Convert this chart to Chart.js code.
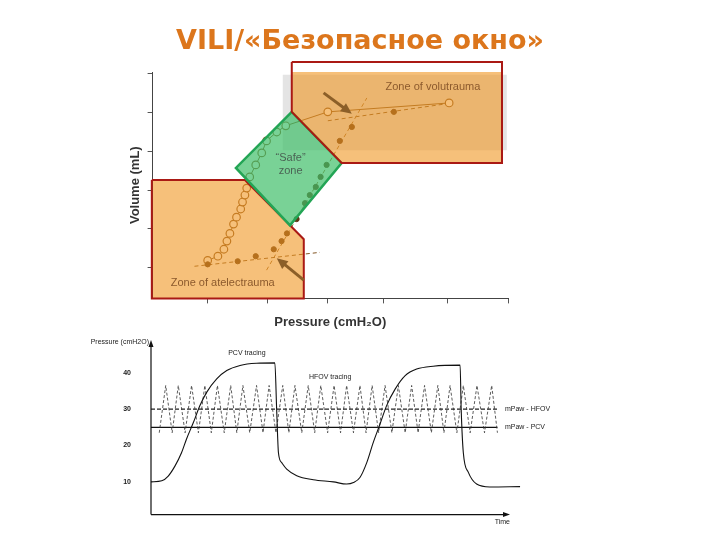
<!DOCTYPE html>
<html>
<head>
<meta charset="utf-8">
<title>VILI</title>
<script src="https://cdn.jsdelivr.net/npm/chart.js@4.4.0/dist/chart.umd.min.js"></script>
<style>
  body { margin: 0; background: #fff; width: 720px; height: 540px; position: relative; overflow: hidden; font-family: "Liberation Sans", Arial, sans-serif; }
  h1 { position: absolute; left: 0; top: 26px; width: 720px; margin: 0; text-align: center; font-family: "DejaVu Sans", sans-serif; font-size: 27px; line-height: 28px; color: #dc761c; font-weight: bold; z-index: 2; }
  #topBox { position: absolute; left: 0; top: 0; width: 720px; height: 340px; }
  #bottomBox { position: absolute; left: 0; top: 330px; width: 720px; height: 210px; }
</style>
</head>
<body>
<div id="topBox"><canvas id="pvChart"></canvas></div>
<div id="bottomBox"><canvas id="pressureChart"></canvas></div>
<h1>VILI/«Безопасное окно»</h1>
<script>
// ---- upper chart: pressure / volume curve ----
const pressTicks = [1, 2, 3, 3.92, 5, 6];
const volTicks = [0.8, 1.8, 2.8, 3.8, 4.8, 5.8];

// inflation limb (open circles)
const inflP = [1.0, 1.17, 1.27, 1.32, 1.37, 1.43, 1.48, 1.55, 1.58, 1.62, 1.65, 1.7, 1.8, 1.9, 1.98, 2.15, 2.3, 3.0, 5.02];
const inflV = [0.98, 1.09, 1.27, 1.48, 1.68, 1.92, 2.1, 2.31, 2.49, 2.67, 2.85, 3.14, 3.45, 3.76, 4.07, 4.3, 4.46, 4.82, 5.05];
// deflation limb (filled dots)
const deflP = [1.0, 1.5, 1.8, 2.1, 2.23, 2.32, 2.48, 2.62, 2.7, 2.8, 2.88, 2.98, 3.2, 3.4, 4.1];
const deflV = [0.88, 0.96, 1.09, 1.27, 1.48, 1.68, 2.05, 2.46, 2.67, 2.88, 3.14, 3.45, 4.07, 4.43, 4.82];

// tangent lines
const lowTanP = [0.78, 2.87];
const lowTanV = [0.83, 1.19];
const steepTanP = [1.98, 3.65];
const steepTanV = [0.73, 5.18];
const upTanP = [3.0, 4.98];
const upTanV = [4.59, 5.03];

// zones
const voluZoneP = [2.4, 5.9, 5.9, 3.23, 2.4, 2.4];
const voluZoneV = [6.11, 6.11, 3.5, 3.5, 4.82, 6.11];
const safeZoneP = [2.4, 3.23, 2.37, 1.47, 2.4];
const safeZoneV = [4.82, 3.5, 1.89, 3.37, 4.82];
const atelZoneP = [0.07, 1.62, 2.37, 2.6, 2.6, 0.07, 0.07];
const atelZoneV = [3.06, 3.06, 1.89, 1.53, 0, 0, 3.06];
const bandP = [2.25, 5.98, 5.98, 2.25, 2.25];
const bandV = [5.78, 5.78, 3.83, 3.83, 5.78];

// arrows
const arrowFromP = [2.93, 2.6];
const arrowFromV = [5.31, 0.47];
const arrowToP = [3.4, 2.15];
const arrowToV = [4.77, 1.04];

// ---- lower chart: PCV vs HFOV pressure tracing ----
const pressureTicks = [10, 20, 30, 40];
const pcvT = [0, 3.0, 4.8, 6.7, 8.5, 9.9, 11.8, 13.6, 15.5, 18.3, 21.1, 24.8, 29.4, 34.5, 35.0, 35.5, 36.4, 37.8, 40.6, 45.2, 50.8, 54.5, 56.4, 58.2, 60.1, 61.9, 63.8, 65.6, 68.0, 70.8, 74.0, 78.6, 86.1, 86.4, 87.0, 88.4, 90.7, 94.4, 102.8];
const pcvP = [10, 10.3, 11.6, 14.4, 18, 21.8, 26.3, 30.9, 34.6, 38.3, 40.6, 42, 42.6, 42.7, 30, 18, 15.3, 13.5, 11.7, 10.6, 10, 9.4, 9.8, 11.2, 15.3, 20.8, 25.9, 30.9, 35.5, 39.2, 41, 41.8, 42.1, 30, 18, 12.6, 9.4, 8.6, 8.7];
const hfovT = [2.3, 4.1, 5.9, 7.6, 9.5, 11.3, 13.2, 15.0, 16.8, 18.5, 20.4, 22.2, 23.9, 25.6, 27.5, 29.4, 31.2, 32.9, 34.8, 36.7, 38.4, 40.1, 42.0, 43.8, 45.6, 47.3, 49.2, 51.0, 52.8, 54.5, 56.4, 58.2, 59.9, 61.6, 63.4, 65.2, 67.1, 68.9, 70.8, 72.6, 74.4, 76.2, 78.1, 79.9, 81.6, 83.3, 85.2, 87.0, 88.9, 90.8, 92.9, 94.9, 96.5];
const hfovP = [23.5, 36.5, 23.5, 36.5, 23.5, 36.5, 23.5, 36.5, 23.5, 36.5, 23.5, 36.5, 23.5, 36.5, 23.5, 36.5, 23.5, 36.5, 23.5, 36.5, 23.5, 36.5, 23.5, 36.5, 23.5, 36.5, 23.5, 36.5, 23.5, 36.5, 23.5, 36.5, 23.5, 36.5, 23.5, 36.5, 23.5, 36.5, 23.5, 36.5, 23.5, 36.5, 23.5, 36.5, 23.5, 36.5, 23.5, 36.5, 23.5, 36.5, 23.5, 36.5, 23.5];
const mpawT = [0, 96.5];
const mpawHfov = [30, 30];
const mpawPcv = [25, 25];

const pts = (xs, ys) => xs.map((x, i) => ({ x: x, y: ys[i] }));

// zones are translucent and sit on top of the curves, like the original slide
const zone = (xs, ys, fill, border, width, order) => ({
  data: pts(xs, ys),
  backgroundColor: fill,
  borderColor: border,
  borderWidth: width,
  fill: "shape",
  pointRadius: 0,
  tension: 0,
  clip: false,
  order: order,
});

const pvNotes = {
  id: "pvNotes",
  afterDatasetsDraw(chart) {
    const { ctx, scales: { x, y } } = chart;
    ctx.save();
    ctx.strokeStyle = "rgb(140,95,40)";
    ctx.fillStyle = "rgb(140,95,40)";
    arrowFromP.forEach((p, i) => {
      const x0 = x.getPixelForValue(p), y0 = y.getPixelForValue(arrowFromV[i]);
      const x1 = x.getPixelForValue(arrowToP[i]), y1 = y.getPixelForValue(arrowToV[i]);
      const a = Math.atan2(y1 - y0, x1 - x0);
      const c = Math.cos(a), s = Math.sin(a);
      ctx.lineWidth = 3;
      ctx.beginPath();
      ctx.moveTo(x0, y0);
      ctx.lineTo(x1 - 8 * c, y1 - 8 * s);
      ctx.stroke();
      ctx.beginPath();
      ctx.moveTo(x1, y1);
      ctx.lineTo(x1 - 11 * c + 5 * s, y1 - 11 * s - 5 * c);
      ctx.lineTo(x1 - 11 * c - 5 * s, y1 - 11 * s + 5 * c);
      ctx.closePath();
      ctx.fill();
    });
    ctx.fillStyle = "rgb(140,90,45)";
    ctx.font = "11px 'Liberation Sans', Arial, sans-serif";
    ctx.textAlign = "center";
    ctx.textBaseline = "middle";
    ctx.fillText("Zone of volutrauma", x.getPixelForValue(4.75), y.getPixelForValue(5.47));
    ctx.fillText("Zone of atelectrauma", x.getPixelForValue(1.25), y.getPixelForValue(0.39));
    ctx.fillStyle = "rgb(75,100,85)";
    ctx.fillText("\u201cSafe\u201d", x.getPixelForValue(2.38), y.getPixelForValue(3.63));
    ctx.fillText("zone", x.getPixelForValue(2.38), y.getPixelForValue(3.29));
    ctx.restore();
  },
};

new Chart(document.getElementById("pvChart"), {
  type: "line",
  data: {
    datasets: [
      zone(bandP, bandV, "rgb(228,228,228)", "rgba(0,0,0,0)", 0, 20),
      zone(atelZoneP, atelZoneV, "rgba(240,150,34,0.6)", "rgb(170,25,20)", 2, 3),
      zone(safeZoneP, safeZoneV, "rgba(64,191,105,0.7)", "rgb(35,165,85)", 2.5, 2),
      zone(voluZoneP, voluZoneV, "rgba(240,150,34,0.6)", "rgb(170,25,20)", 2, 1),
      {
        data: pts(lowTanP, lowTanV),
        borderColor: "rgb(130,85,35)",
        borderWidth: 1,
        borderDash: [4, 3],
        pointRadius: 0,
        order: 10,
      },
      {
        data: pts(steepTanP, steepTanV),
        borderColor: "rgb(160,110,50)",
        borderWidth: 1,
        borderDash: [4, 3],
        pointRadius: 0,
        clip: false,
        order: 10,
      },
      {
        data: pts(upTanP, upTanV),
        borderColor: "rgb(130,85,35)",
        borderWidth: 1,
        borderDash: [4, 3],
        pointRadius: 0,
        order: 10,
      },
      {
        data: pts(inflP, inflV),
        borderColor: "rgb(130,85,35)",
        borderWidth: 1,
        pointRadius: 3.8,
        pointBackgroundColor: "#fff",
        pointBorderColor: "rgb(135,85,35)",
        pointBorderWidth: 1.2,
        tension: 0,
        order: 5,
      },
      {
        data: pts(deflP, deflV),
        showLine: false,
        pointRadius: 2.6,
        pointBackgroundColor: "rgb(95,55,20)",
        pointBorderColor: "rgb(95,55,20)",
        order: 4,
      },
    ],
  },
  options: {
    responsive: true,
    maintainAspectRatio: false,
    animation: false,
    layout: { padding: { left: 124, right: 212, top: 72, bottom: 6 } },
    plugins: { legend: { display: false }, tooltip: { enabled: false } },
    scales: {
      x: {
        type: "linear",
        min: 0.083,
        max: 6,
        afterBuildTicks: (s) => { s.ticks = pressTicks.map((v) => ({ value: v })); },
        ticks: { display: false },
        grid: { drawOnChartArea: false, drawTicks: true, tickLength: 5, color: "#555" },
        border: { color: "#444" },
        title: { display: true, text: "Pressure (cmH\u2082O)", color: "#333", font: { size: 13, weight: "bold" }, padding: { top: 11, bottom: 4 } },
      },
      y: {
        type: "linear",
        min: 0,
        max: 5.85,
        afterBuildTicks: (s) => { s.ticks = volTicks.map((v) => ({ value: v })); },
        ticks: { display: false },
        grid: { drawOnChartArea: false, drawTicks: true, tickLength: 5, color: "#555" },
        border: { color: "#444" },
        title: { display: true, text: "Volume (mL)", color: "#333", font: { size: 13, weight: "bold" }, padding: { top: 4, bottom: 4 } },
      },
    },
  },
  plugins: [pvNotes],
});

const traceNotes = {
  id: "traceNotes",
  afterDatasetsDraw(chart) {
    const { ctx, chartArea: a, scales: { x, y } } = chart;
    ctx.save();
    ctx.strokeStyle = "#111";
    ctx.fillStyle = "#111";
    ctx.lineWidth = 1.2;
    // axes with arrow heads
    ctx.beginPath();
    ctx.moveTo(a.left, a.bottom);
    ctx.lineTo(a.left, a.top + 4);
    ctx.moveTo(a.left, a.bottom);
    ctx.lineTo(a.right - 4, a.bottom);
    ctx.stroke();
    ctx.beginPath();
    ctx.moveTo(a.left, a.top);
    ctx.lineTo(a.left - 2.5, a.top + 7);
    ctx.lineTo(a.left + 2.5, a.top + 7);
    ctx.closePath();
    ctx.fill();
    ctx.beginPath();
    ctx.moveTo(a.right, a.bottom);
    ctx.lineTo(a.right - 7, a.bottom - 2.5);
    ctx.lineTo(a.right - 7, a.bottom + 2.5);
    ctx.closePath();
    ctx.fill();
    ctx.font = "7px 'Liberation Sans', Arial, sans-serif";
    ctx.fillStyle = "#222";
    ctx.textBaseline = "middle";
    ctx.textAlign = "right";
    ctx.fillText("Pressure (cmH2O)", a.left - 2, a.top + 2);
    ctx.textAlign = "center";
    ctx.fillText("PCV tracing", x.getPixelForValue(26.7), y.getPixelForValue(45.3));
    ctx.fillText("HFOV tracing", x.getPixelForValue(49.9), y.getPixelForValue(38.7));
    ctx.textAlign = "left";
    ctx.fillText("mPaw - HFOV", x.getPixelForValue(98.6), y.getPixelForValue(30));
    ctx.fillText("mPaw - PCV", x.getPixelForValue(98.6), y.getPixelForValue(25));
    ctx.restore();
  },
};

new Chart(document.getElementById("pressureChart"), {
  type: "line",
  data: {
    datasets: [
      {
        data: pts(pcvT, pcvP),
        borderColor: "#111",
        borderWidth: 1.1,
        pointRadius: 0,
        cubicInterpolationMode: "monotone",
        clip: false,
      },
      {
        data: pts(hfovT, hfovP),
        borderColor: "#333",
        borderWidth: 0.8,
        borderDash: [3, 2],
        pointRadius: 0,
        tension: 0,
      },
      {
        data: pts(mpawT, mpawHfov),
        borderColor: "#222",
        borderWidth: 1.3,
        borderDash: [4, 2],
        pointRadius: 0,
      },
      {
        data: pts(mpawT, mpawPcv),
        borderColor: "#111",
        borderWidth: 1.3,
        pointRadius: 0,
      },
    ],
  },
  options: {
    responsive: true,
    maintainAspectRatio: false,
    animation: false,
    layout: { padding: { left: 123, right: 210, top: 10, bottom: 14 } },
    plugins: { legend: { display: false }, tooltip: { enabled: false } },
    scales: {
      x: {
        type: "linear",
        min: 0,
        max: 100,
        ticks: { display: false },
        grid: { display: false, drawTicks: false },
        border: { display: false },
        title: { display: true, text: "Time", align: "end", color: "#222", font: { size: 7 }, padding: { top: 3, bottom: 0 } },
      },
      y: {
        type: "linear",
        min: 1,
        max: 49,
        afterBuildTicks: (s) => { s.ticks = pressureTicks.map((v) => ({ value: v })); },
        afterFit: (s) => { s.width = 28; s.paddingTop = 0; s.paddingBottom = 0; },
        ticks: { color: "#222", font: { size: 7, weight: "bold" }, padding: 20 },
        grid: { display: false, drawTicks: false },
        border: { display: false },
      },
    },
  },
  plugins: [traceNotes],
});
</script>
</body>
</html>
